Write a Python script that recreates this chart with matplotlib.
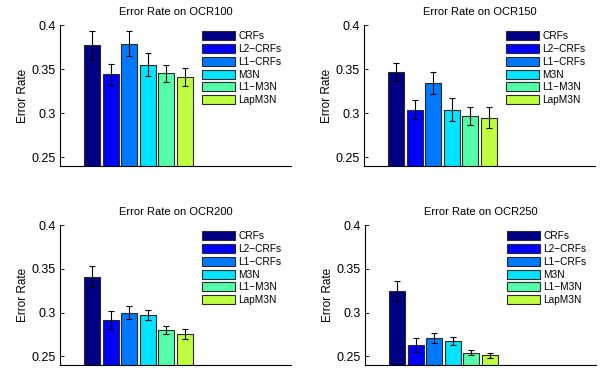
import matplotlib
matplotlib.use("Agg")
import matplotlib.pyplot as plt
import numpy as np

methods = ["CRFs", "L2\u2212CRFs", "L1\u2212CRFs", "M3N", "L1\u2212M3N", "LapM3N"]
colors = ["#000085", "#0000ff", "#0078ff", "#00e4ff", "#55ffaa", "#bfff3f"]

titles = ["Error Rate on OCR100", "Error Rate on OCR150",
          "Error Rate on OCR200", "Error Rate on OCR250"]

ocr100 = [0.377, 0.344, 0.379, 0.355, 0.345, 0.341]
ocr100_err = [0.0167, 0.012, 0.014, 0.013, 0.010, 0.010]
ocr150 = [0.347, 0.304, 0.334, 0.304, 0.297, 0.295]
ocr150_err = [0.010, 0.0104, 0.0126, 0.013, 0.0105, 0.0117]
ocr200 = [0.341, 0.291, 0.300, 0.2976, 0.280, 0.275]
ocr200_err = [0.0123, 0.0102, 0.0072, 0.0057, 0.005, 0.0057]
ocr250 = [0.325, 0.2624, 0.2704, 0.267, 0.2538, 0.2511]
ocr250_err = [0.0113, 0.0081, 0.0057, 0.0045, 0.0028, 0.0026]

values = [ocr100, ocr150, ocr200, ocr250]
errors = [ocr100_err, ocr150_err, ocr200_err, ocr250_err]

W, H = 602, 369
fig = plt.figure(figsize=(W / 100, H / 100), dpi=100)
plt.rcParams['font.family'] = ['Liberation Sans', 'DejaVu Sans']

# axes boxes in pixels: left, top, right, bottom
boxes = [(60, 25, 291, 166), (364, 25, 595, 166),
         (60, 225, 291, 365), (365, 225, 596, 365)]

x = np.arange(6)
for i in range(4):
    l, t, r, b = boxes[i]
    ax = fig.add_axes([l / W, 1 - b / H, (r - l) / W, (b - t) / H])
    for j in range(6):
        ax.bar(x[j], values[i][j], width=0.86, bottom=0, color=colors[j],
               edgecolor="#2a2a2a", linewidth=0.8, label=methods[j], zorder=2)
    ax.errorbar(x, values[i], yerr=errors[i], fmt='none', ecolor='black',
                elinewidth=0.8, capsize=2.5, capthick=0.8, zorder=3)
    ax.set_ylim(0.24, 0.4)
    ax.set_xlim(-1.72, 10.7)
    ax.set_yticks([0.25, 0.3, 0.35, 0.4])
    ax.set_yticklabels(["0.25", "0.3", "0.35", "0.4"])
    ax.set_xticks([])
    ax.spines['top'].set_visible(False)
    ax.spines['right'].set_visible(False)
    ax.spines['left'].set_linewidth(0.8)
    ax.spines['bottom'].set_linewidth(0.8)
    ax.tick_params(axis='y', direction='in', length=3, width=0.6,
                   labelsize=9, pad=3)
    ax.set_ylabel("Error Rate", fontsize=8.5, labelpad=2)
    ax.set_title(titles[i], fontsize=8, pad=7)
    ax.legend(loc='upper left', bbox_to_anchor=(0.615, 0.955), frameon=False,
              fontsize=7.3, handlelength=3.2, handleheight=1.0,
              labelspacing=0.27, handletextpad=0.35, borderpad=0,
              borderaxespad=0)

fig.savefig("out.png", dpi=100)
